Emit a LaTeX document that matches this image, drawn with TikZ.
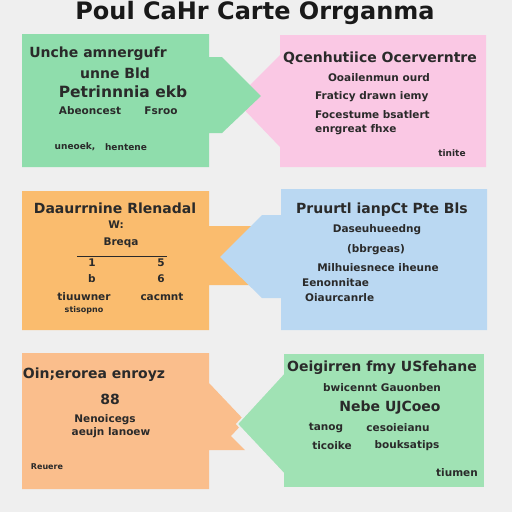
\documentclass[tikz,border=0pt]{standalone}
\usepackage{fontspec}
\setmainfont{DejaVu Sans}
\usetikzlibrary{positioning}

\definecolor{bgc}{HTML}{EFEFEF}
\definecolor{ink}{HTML}{2A2A2A}
\definecolor{mintA}{HTML}{8FDDAC}
\definecolor{rose}{HTML}{FAC8E4}
\definecolor{amber}{HTML}{FABC6E}
\definecolor{sky}{HTML}{BAD8F2}
\definecolor{peach}{HTML}{FABE8C}
\definecolor{mintB}{HTML}{A0E2B4}

\begin{document}
\begin{tikzpicture}[
  x=1pt, y=-1pt,
  panel/.style={fill=#1, draw=none},
  gapline/.style={draw=bgc, line width=1.6pt, line join=miter},
  ttl/.style={font=\fontsize{24}{26}\selectfont\bfseries, text=black!90, inner sep=0pt, anchor=base},
  big/.style={font=\fontsize{15.5}{17}\selectfont\bfseries, text=ink, inner sep=0pt},
  hd/.style={font=\fontsize{14}{16}\selectfont\bfseries, text=ink, inner sep=0pt},
  md/.style={font=\fontsize{10.5}{12}\selectfont\bfseries, text=ink, inner sep=0pt},
  sm/.style={font=\fontsize{9}{10}\selectfont\bfseries, text=ink, inner sep=0pt},
  xs/.style={font=\fontsize{8}{9}\selectfont\bfseries, text=ink, inner sep=0pt},
]
  \fill[bgc] (0,0) rectangle (512,512);
  \useasboundingbox (0,0) rectangle (512,512);

  % title
  \node[ttl] (title) at (255,19) {Poul CaHr Carte Orrganma};

  % row 1
  \path[panel=rose] (280,35) -- (486,35) -- (486,167) -- (280,167)
    -- (280,147) -- (235,100) -- (280,55) -- cycle;
  \path[panel=mintA] (22,34) -- (209,34) -- (209,57) -- (222,57)
    -- (261,96) -- (222,133) -- (209,133) -- (209,167) -- (22,167) -- cycle;

  % row 2
  \path[panel=amber] (22,191) -- (209,191) -- (209,226) -- (252,226)
    -- (252,285) -- (209,285) -- (209,330) -- (22,330) -- cycle;
  \path[panel=sky] (281,189) -- (487,189) -- (487,330) -- (281,330)
    -- (281,298) -- (262,298) -- (220,257) -- (262,215) -- (281,215) -- cycle;

  % row 3
  \path[panel=peach] (22,353) -- (209,353) -- (209,383) -- (245,421)
    -- (231,436) -- (245,450) -- (209,450) -- (209,489) -- (22,489) -- cycle;
  \path[panel=mintB, gapline] (283,353) -- (485,353) -- (485,488) -- (283,488)
    -- (283,473) -- (237,424) -- (283,374) -- cycle;

  % green panel, top left
  \node[hd] (g1a) at (98,54) {Unche amnergufr};
  \node[hd] (g1b) at (115,73) {unne Bld};
  \node[big] (g1c) at (123,92) {Petrinnnia ekb};
  \node[md] (g1d) at (90,111) {Abeoncest};
  \node[md] (g1e) at (161,111) {Fsroo};
  \node[sm] (g1f) at (75,147) {uneoek,};
  \node[sm] (g1g) at (126,147) {hentene};

  % pink panel
  \node[hd] (p1a) at (380,58) {Qcenhutiice Ocerverntre};
  \node[md] (p1b) at (379,78) {Ooailenmun ourd};
  \node[md, anchor=west] (p1c) at (315,97) {Fraticy drawn iemy};
  \node[md, anchor=west] (p1d) at (315,115) {Focestume bsatlert};
  \node[md, anchor=west] (p1e) at (315,130) {enrgreat fhxe};
  \node[sm] (p1f) at (452,153) {tinite};

  % amber panel
  \node[hd] (a2a) at (115,208) {Daaurrnine Rlenadal};
  \node[md] (a2b) at (116,225) {W:};
  \node[md] (a2c) at (121,243) {Breqa};
  \coordinate (barL) at (77,256);
  \coordinate (barR) at (167,256);
  \draw[ink, line width=0.9pt] (barL) -- (barR);
  \node[md] (a2d) at (92,263) {1};
  \node[md] (a2e) at (161,263) {5};
  \node[md] (a2f) at (92,279) {b};
  \node[md] (a2g) at (161,279) {6};
  \node[md] (a2h) at (84,297) {tiuuwner};
  \node[md] (a2i) at (162,297) {cacmnt};
  \node[xs] (a2j) at (84,310) {stisopno};

  % sky panel
  \node[hd] (s2a) at (382,210) {Pruurtl ianpCt Pte Bls};
  \node[md] (s2b) at (377,230) {Daseuhueedng};
  \node[md] (s2c) at (376,250) {(bbrgeas)};
  \node[md] (s2d) at (378,268) {Milhuiesnece iheune};
  \node[md, anchor=west] (s2e) at (302,283) {Eenonnitae};
  \node[md, anchor=west] (s2f) at (305,298) {Oiaurcanrle};

  % peach panel
  \node[hd] (o3a) at (94,375) {Oin;erorea enroyz};
  \node[hd] (o3b) at (110,399) {88};
  \node[md] (o3c) at (105,420) {Nenoicegs};
  \node[md] (o3d) at (111,433) {aeujn lanoew};
  \node[xs] (o3e) at (47,467) {Reuere};

  % mint panel, bottom right
  \node[hd] (m3a) at (382,368) {Oeigirren fmy USfehane};
  \node[md] (m3b) at (382,388) {bwicennt Gauonben};
  \node[hd] (m3c) at (390,408) {Nebe UJCoeo};
  \node[md] (m3d) at (326,428) {tanog};
  \node[md] (m3e) at (398,428) {cesoieianu};
  \node[md] (m3f) at (332,446) {ticoike};
  \node[md] (m3g) at (407,446) {bouksatips};
  \node[md] (m3h) at (457,473) {tiumen};
\end{tikzpicture}
\end{document}
